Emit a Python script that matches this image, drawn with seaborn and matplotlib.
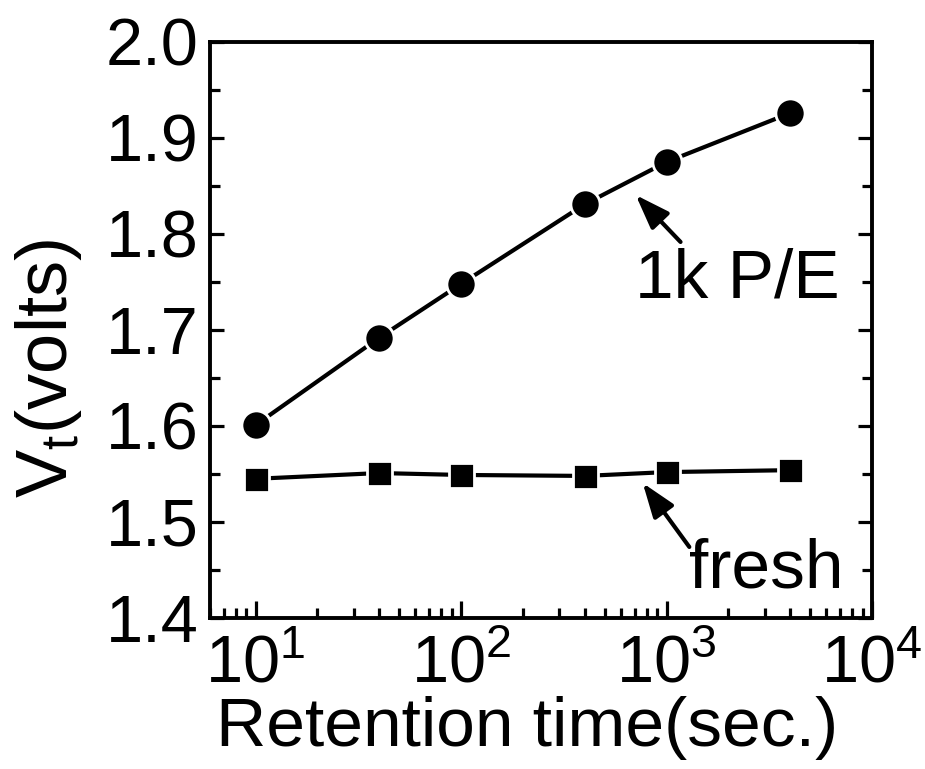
import numpy as np
import pandas as pd
import matplotlib
matplotlib.use("Agg")
import matplotlib.pyplot as plt
from matplotlib.ticker import LogLocator, MultipleLocator, FixedLocator, FixedFormatter
import seaborn as sns

# data
time_s = [10, 40, 100, 400, 1000, 4000]
vt_1k_pe = [1.601, 1.692, 1.748, 1.831, 1.875, 1.926]
vt_fresh = [1.545, 1.551, 1.549, 1.548, 1.552, 1.554]
x_tick_vals = [10, 100, 1000, 10000]
x_tick_labels = [r"$\mathregular{10^{1}}$", r"$\mathregular{10^{2}}$",
                 r"$\mathregular{10^{3}}$", r"$\mathregular{10^{4}}$"]
y_tick_vals = [1.4, 1.5, 1.6, 1.7, 1.8, 1.9, 2.0]
y_tick_labels = ["1.4", "1.5", "1.6", "1.7", "1.8", "1.9", "2.0"]

sns.set_style("ticks")
plt.rcParams["font.family"] = ["Liberation Sans", "DejaVu Sans"]
plt.rcParams["mathtext.fontset"] = "custom"
plt.rcParams["mathtext.rm"] = "Liberation Sans"
plt.rcParams["mathtext.it"] = "Liberation Sans"
for k in ["text.color", "axes.labelcolor", "xtick.color", "ytick.color", "axes.edgecolor"]:
    plt.rcParams[k] = "black"

df = pd.DataFrame({"t": time_s, "pe": vt_1k_pe, "fresh": vt_fresh})

fig = plt.figure(figsize=(9.25, 7.69), dpi=100)
ax = fig.add_axes([210 / 925, 1 - 618 / 769, 662 / 925, 576 / 769])

sns.lineplot(data=df, x="t", y="pe", ax=ax, color="black", lw=3,
             marker="o", markersize=21, markeredgecolor="white", markeredgewidth=2)
sns.lineplot(data=df, x="t", y="fresh", ax=ax, color="black", lw=3,
             marker="s", markersize=18, markeredgecolor="white", markeredgewidth=2)

ax.set_xscale("log")
ax.set_xlim(6, 10000)
ax.set_ylim(1.4, 2.0)

ax.xaxis.set_major_locator(FixedLocator(x_tick_vals))
ax.xaxis.set_major_formatter(FixedFormatter(x_tick_labels))
ax.xaxis.set_minor_locator(LogLocator(base=10, subs=np.arange(2, 10), numticks=20))
ax.yaxis.set_major_locator(FixedLocator(y_tick_vals))
ax.yaxis.set_major_formatter(FixedFormatter(y_tick_labels))
ax.yaxis.set_minor_locator(MultipleLocator(0.05))

for s in ax.spines.values():
    s.set_linewidth(2.8)
    s.set_visible(True)
    s.set_color("black")

ax.tick_params(axis="both", which="both", direction="in", width=2.3, colors="black")
ax.tick_params(axis="y", which="both", left=True, right=True)
ax.tick_params(axis="x", which="both", bottom=True, top=False)
ax.tick_params(axis="y", which="major", length=10, labelsize=48, pad=8)
ax.tick_params(axis="y", which="minor", length=7)
ax.tick_params(axis="x", which="major", length=12, labelsize=48, pad=12)
ax.tick_params(axis="x", which="minor", length=7)

ax.set_xlabel("Retention time(sec.)", fontsize=50)
ax.xaxis.set_label_coords(0.479, -0.135)
ax.set_ylabel(r"V$_\mathregular{t}$(volts)", fontsize=52)
ax.yaxis.set_label_coords(-0.19, 0.434)

arrow = dict(arrowstyle="-|>,head_length=0.7,head_width=0.25", lw=3, color="black",
             mutation_scale=30, shrinkA=0, shrinkB=0)
ax.annotate("", xy=(708, 1.8406), xytext=(1170, 1.7917), arrowprops=arrow)
ax.text(700, 1.734, "1k P/E", fontsize=50, ha="left", va="baseline")

ax.annotate("", xy=(766, 1.5406), xytext=(1291, 1.474), arrowprops=arrow)
ax.text(1291, 1.4313, "fresh", fontsize=50, ha="left", va="baseline")

fig.savefig("out.png", dpi=100)
